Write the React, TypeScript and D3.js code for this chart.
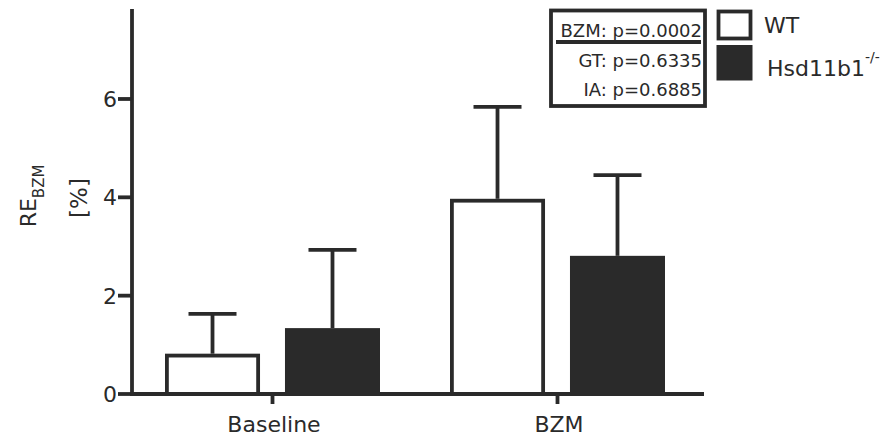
import React from "react";
import * as d3 from "d3";

const categories = ["Baseline", "BZM"];
const seriesNames = ["WT", "Hsd11b1"];
const wtMeans = [0.82, 3.97];
const wtErrTop = [1.63, 5.84];
const koMeans = [1.34, 2.81];
const koErrTop = [2.93, 4.45];
const yTicks = [0, 2, 4, 6];
const statLines = ["BZM: p=0.0002", "GT: p=0.6335", "IA: p=0.6885"];

const W = 895;
const H = 439;
const INK = "#2a2a2a";
const FONT = "'DejaVu Sans', sans-serif";
const SW = 3.8;

export default function App() {
  const y = d3.scaleLinear().domain([0, 7.83]).range([394, 9]);
  const x = d3.scalePoint<string>().domain(categories).range([130, 700]).padding(0.5);
  const inner = d3
    .scaleBand<string>()
    .domain(seriesNames)
    .range([-107.5, 107.5])
    .paddingInner(0.208);
  const bw = inner.bandwidth();
  const capHalf = 24;
  const axisX = 132;
  const axisRight = 704;

  const series = [
    { name: "WT", means: wtMeans, errs: wtErrTop, fill: "#ffffff" },
    { name: "Hsd11b1", means: koMeans, errs: koErrTop, fill: INK },
  ];

  return (
    <svg width={W} height={H} style={{ position: "absolute", left: 0, top: 0, background: "#fff" }}>
      <rect x={0} y={0} width={W} height={H} fill="#fff" />
      {series.map((s) =>
        categories.map((c, i) => {
          const left = (x(c) as number) + (inner(s.name) as number);
          const top = y(s.means[i]);
          const base = y(0);
          const cx = left + bw / 2;
          return (
            <g key={s.name + c}>
              <line x1={cx} x2={cx} y1={top} y2={y(s.errs[i])} stroke={INK} strokeWidth={SW} />
              <line x1={cx - capHalf} x2={cx + capHalf} y1={y(s.errs[i])} y2={y(s.errs[i])} stroke={INK} strokeWidth={SW} />
              {s.fill === "#ffffff" ? (
                <rect
                  x={left + SW / 2}
                  y={top + SW / 2}
                  width={bw - SW}
                  height={base - top - SW / 2}
                  fill="#fff"
                  stroke={INK}
                  strokeWidth={SW}
                />
              ) : (
                <rect x={left} y={top} width={bw} height={base - top} fill={INK} />
              )}
            </g>
          );
        })
      )}
      <line x1={axisX} x2={axisX} y1={y.range()[1]} y2={y(0) + SW / 2} stroke={INK} strokeWidth={SW} />
      {yTicks.map((t) => (
        <g key={t}>
          <line x1={axisX - 14} x2={axisX} y1={y(t)} y2={y(t)} stroke={INK} strokeWidth={SW} />
          <text x={axisX - 15} y={y(t)} dy="0.36em" textAnchor="end" fontFamily={FONT} fontSize={22} fill={INK}>
            {t}
          </text>
        </g>
      ))}
      <line x1={axisX - SW / 2} x2={axisRight} y1={y(0)} y2={y(0)} stroke={INK} strokeWidth={SW} />
      {categories.map((c) => (
        <g key={c}>
          <line x1={x(c)} x2={x(c)} y1={y(0)} y2={y(0) + 10} stroke={INK} strokeWidth={SW} />
          <text x={(x(c) as number) + 1.5} y={432} textAnchor="middle" fontFamily={FONT} fontSize={22} fill={INK}>
            {c}
          </text>
        </g>
      ))}
      <text transform="translate(36,196) rotate(-90)" textAnchor="middle" fontFamily={FONT} fontSize={22} fill={INK}>
        RE
        <tspan fontSize={15} dy={8}>BZM</tspan>
      </text>
      <text transform="translate(87,198) rotate(-90)" textAnchor="middle" fontFamily={FONT} fontSize={23} fill={INK}>
        [%]
      </text>
      <rect x={551} y={10.5} width={154} height={95.5} fill="#fff" stroke={INK} strokeWidth={SW} />
      {statLines.map((s, i) => (
        <text key={s} x={702} y={37 + i * 29.5} textAnchor="end" fontFamily={FONT} fontSize={18} fill={INK}>
          {s}
        </text>
      ))}
      <line x1={556} x2={701} y1={42} y2={42} stroke={INK} strokeWidth={SW} />
      <rect x={718.5} y={11.5} width={32} height={27} fill="#fff" stroke={INK} strokeWidth={SW} />
      <rect x={716.5} y={45} width={36} height={35.5} fill={INK} />
      <text x={764} y={33} fontFamily={FONT} fontSize={22} fill={INK}>WT</text>
      <text x={767} y={76} fontFamily={FONT} fontSize={22} fill={INK}>
        Hsd11b1
        <tspan fontSize={14} dy={-14}>-/-</tspan>
      </text>
    </svg>
  );
}
